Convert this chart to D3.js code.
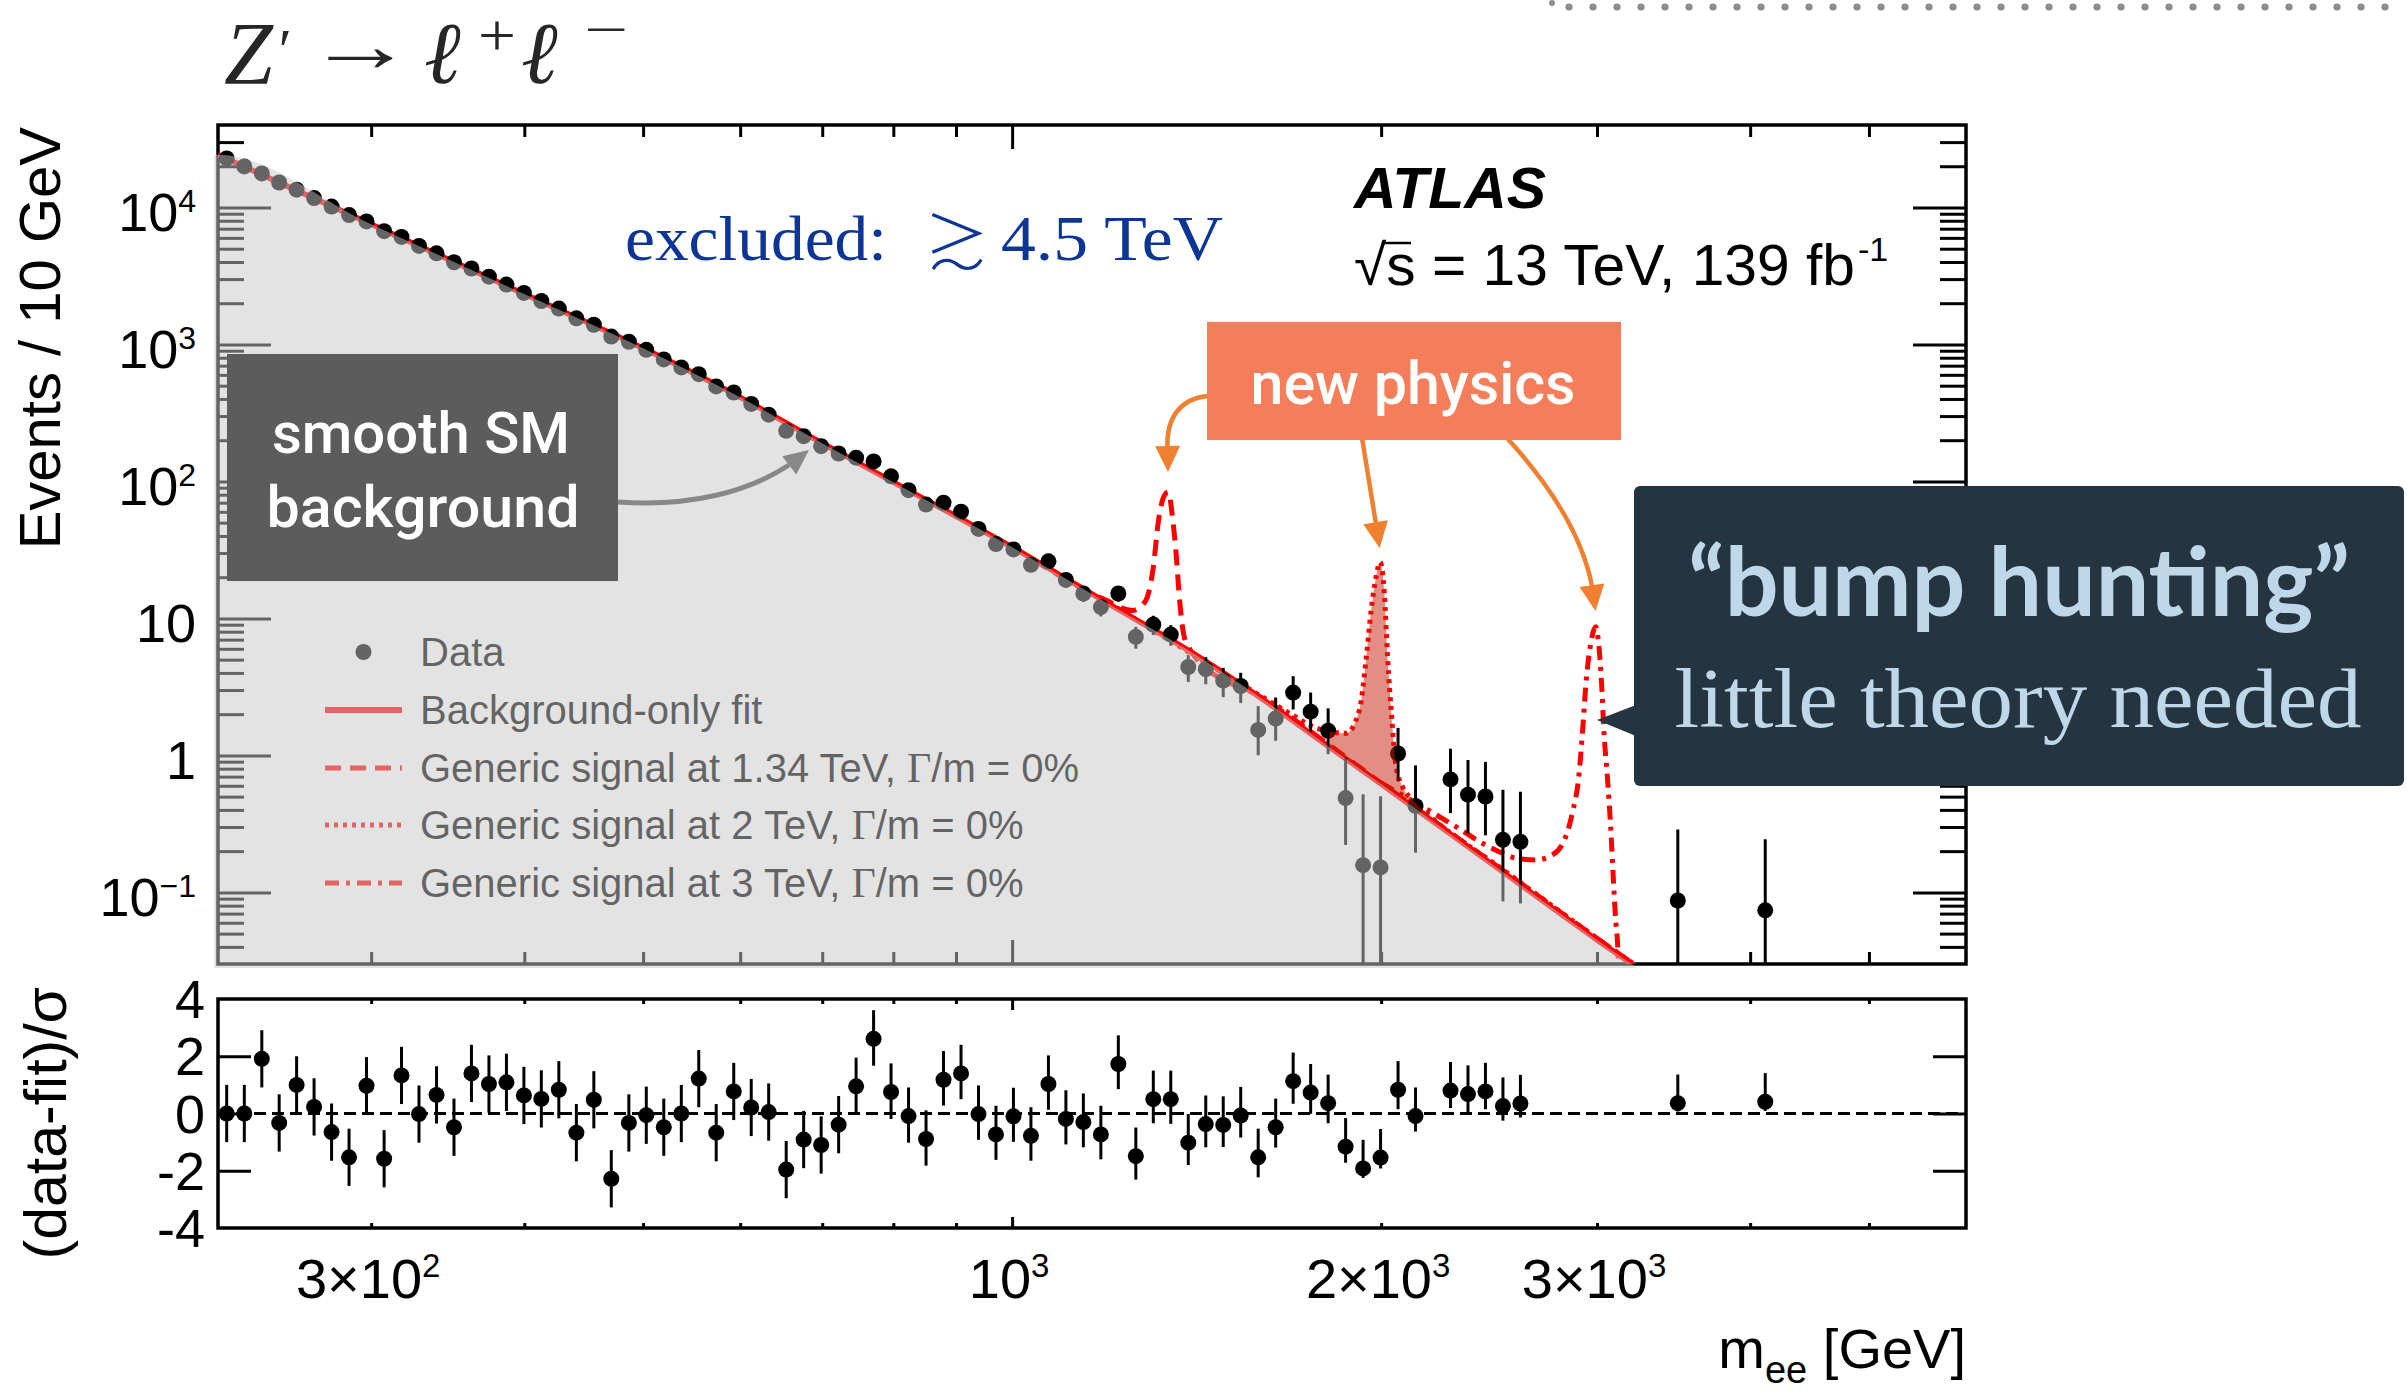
<!DOCTYPE html>
<html>
<head>
<meta charset="utf-8">
<title>Z' → ℓ+ℓ− : dielectron invariant mass</title>
<script src="https://cdn.jsdelivr.net/npm/d3@7/dist/d3.min.js"></script>
<style>
  html, body { margin: 0; padding: 0; background: #ffffff; }
  svg { display: block; }
</style>
</head>
<body>
<svg id="chart" width="2407" height="1398" viewBox="0 0 2407 1398"></svg>
<script>
// ---------------------------------------------------------------------------
// Data: ATLAS dielectron spectrum, 13 TeV, 139 fb-1 (log-spaced bins)
// ---------------------------------------------------------------------------
const binCentres = [
  228.7, 236.4, 244.3, 252.4, 260.8, 269.5, 278.5, 287.8, 297.4, 307.4,
  317.6, 328.2, 339.2, 350.5, 362.2, 374.3, 386.8, 399.7, 413.0, 426.8,
  441.1, 455.8, 471.0, 486.8, 503.0, 519.8, 537.2, 555.1, 573.6, 592.8,
  612.6, 633.0, 654.2, 676.0, 698.6, 721.9, 746.0, 770.9, 796.6, 823.2,
  850.7, 879.1, 908.5, 938.8, 970.1, 1002.5, 1036.0, 1070.6, 1106.3, 1143.2,
  1181.4, 1220.8, 1261.6, 1303.7, 1347.2, 1392.2, 1438.7, 1486.7, 1536.3, 1587.6,
  1640.6, 1695.4, 1752.0, 1810.5, 1870.9, 1933.4, 1997.9, 2064.6, 2133.5, 2204.8,
  2278.4, 2354.4, 2433.0, 2514.2, 2598.2, 2684.9, 2774.6, 2867.2, 2962.9, 3061.9,
  3164.1, 3269.8, 3379.0, 3491.8, 3608.4, 3728.9, 3853.4, 3982.1, 4115.1
];

// Events / 10 GeV (null = empty bin)
const eventsPer10GeV = [
  22790, 19940, 17726, 15219, 13479, 11710, 10153, 8794, 7912, 6716,
  6091, 5239, 4627, 3983, 3586, 3123, 2737, 2377, 2076, 1829,
  1552, 1392, 1141, 1046, 913, 778, 680, 607, 494, 446,
  368, 307, 234, 214, 181, 160, 149, 140, 109, 86.3,
  67.8, 69.9, 60.1, 45.0, 34.9, 31.9, 24.6, 26.1, 19.1, 15.2,
  12.1, 15.2, 7.34, 9.01, 7.62, 4.42, 4.26, 3.51, 3.21, 1.534,
  1.856, 2.874, 2.086, 1.514, 0.488, 0.158, 0.152, 1.032, 0.428, null,
  0.668, 0.517, 0.501, 0.242, 0.234, null, null, null, null, null,
  null, null, null, 0.0872, null, null, null, null, 0.0740
];

const eventsErrLow = [
  174, 160, 149, 136, 125, 115, 105, 96, 90, 82,
  76, 70, 64, 59, 55, 50, 46, 43, 39, 36,
  33, 30, 27, 26, 24, 21, 20, 18, 16, 15,
  13.5, 12.2, 10.4, 9.8, 8.9, 8.2, 7.8, 7.4, 6.5, 5.6,
  4.9, 4.9, 4.5, 3.8, 3.3, 3.1, 2.7, 2.7, 2.3, 2.0,
  1.77, 1.95, 1.33, 1.45, 1.31, 0.98, 0.95, 0.85, 0.80, 0.531,
  0.577, 0.711, 0.593, 0.494, 0.266, 0.130, 0.126, 0.381, 0.233, null,
  0.289, 0.248, 0.240, 0.156, 0.151, null, null, null, null, null,
  null, null, null, 0.0721, null, null, null, null, 0.0612
];

const eventsErrHigh = [
  174, 160, 149, 136, 125, 115, 105, 96, 90, 82,
  76, 70, 64, 59, 55, 50, 46, 43, 39, 36,
  33, 30, 27, 26, 24, 21, 20, 18, 16, 15,
  13.5, 12.2, 10.4, 9.8, 8.9, 8.2, 7.8, 7.4, 6.5, 5.6,
  4.9, 4.9, 4.5, 3.8, 3.3, 3.1, 2.7, 2.7, 2.3, 2.0,
  1.77, 1.95, 1.33, 1.45, 1.31, 0.98, 0.95, 0.85, 0.80, 0.756,
  0.791, 0.912, 0.791, 0.691, 0.475, 0.362, 0.351, 0.556, 0.417, null,
  0.452, 0.409, 0.396, 0.319, 0.309, null, null, null, null, null,
  null, null, null, 0.2005, null, null, null, null, 0.1702
];

// (data - fit) / sigma per bin
const significance = [
  0.00, 0.00, 1.91, -0.33, 1.00, 0.23, -0.65, -1.53, 0.97, -1.58,
  1.33, -0.02, 0.65, -0.48, 1.40, 1.03, 1.09, 0.63, 0.51, 0.83,
  -0.67, 0.48, -2.28, -0.33, -0.06, -0.48, 0.00, 1.22, -0.67, 0.77,
  0.21, 0.05, -1.96, -0.91, -1.10, -0.39, 0.95, 2.61, 0.75, -0.09,
  -0.89, 1.18, 1.40, -0.02, -0.73, -0.10, -0.78, 1.03, -0.19, -0.30,
  -0.73, 1.73, -1.49, 0.50, 0.50, -1.02, -0.37, -0.40, -0.07, -1.53,
  -0.48, 1.13, 0.73, 0.36, -1.16, -1.92, -1.54, 0.83, -0.09, null,
  0.80, 0.68, 0.77, 0.26, 0.35, null, null, null, null, null,
  null, null, null, 0.36, null, null, null, null, 0.41
];

const significanceErrLow = [
  1, 1, 1, 1, 1, 1, 1, 1, 1, 1,
  1, 1, 1, 1, 1, 1, 1, 1, 1, 1,
  1, 1, 1, 1, 1, 1, 1, 1, 1, 1,
  1, 1, 1, 1, 1, 1, 0.95, 0.94, 0.94, 0.93,
  0.93, 0.90, 0.90, 0.90, 0.89, 0.89, 0.87, 0.90, 0.89, 0.88,
  0.87, 0.88, 0.82, 0.84, 0.86, 0.78, 0.81, 0.77, 0.77, 0.70,
  0.71, 0.79, 0.74, 0.70, 0.56, 0.33, 0.38, 0.68, 0.54, null,
  0.61, 0.63, 0.62, 0.51, 0.49, null, null, null, null, null,
  null, null, null, 0.29, null, null, null, null, 0.32
];
const significanceErrHigh = 1.0;

// Background-only fit
const fitMass   = [225, 300, 400, 500, 600, 700, 800, 900, 1000, 1200, 1400, 1600, 1800, 2000, 2500, 3000, 3200, 3300];
const fitEvents = [24240, 7550, 2331, 937, 411, 190, 98.7, 55.7, 33.1, 12.7, 5.68, 2.58, 1.21, 0.619, 0.146, 0.045, 0.0301, 0.0247];

// Generic signal + background, 1.34 TeV
const sig134Mass   = [1000, 1191, 1253, 1284, 1303, 1317, 1331, 1341, 1351, 1361, 1370, 1380, 1395, 1415, 1600, 2000, 2500, 3000, 3250];
const sig134Events = [33.7, 13.69, 11.42, 13.28, 22.85, 53.3, 78.9, 83.8, 56.6, 29.1, 13.28, 7.71, 6.05, 5.05, 2.62, 0.629, 0.150, 0.0462, 0.028];

// Generic signal + background, 2 TeV
const sig2Mass   = [1200, 1600, 1700, 1760, 1815, 1872, 1920, 1944, 1963, 1981, 1996, 2012, 2025, 2038, 2057, 2082, 2122, 2189, 2500, 3000, 3250];
const sig2Events = [12.93, 2.67, 1.93, 1.62, 1.489, 1.45, 2.14, 4.96, 11.5, 20.1, 25.7, 15.3, 4.96, 2.14, 0.827, 0.591, 0.473, 0.363, 0.152, 0.0462, 0.028];

// Generic signal + background, 3 TeV
const sig3Mass   = [2000, 2301, 2419, 2512, 2576, 2674, 2759, 2829, 2864, 2901, 2919, 2937, 2965, 2993, 3011, 3027, 3040, 3059, 3078, 3093, 3107, 3117, 3124, 3130];
const sig3Events = [0.629, 0.302, 0.2285, 0.1931, 0.1776, 0.1726, 0.1877, 0.2553, 0.378, 0.740, 1.449, 3.17, 6.57, 8.69, 6.21, 3.17, 1.449, 0.699, 0.302, 0.1304, 0.0630, 0.0450, 0.0301, 0.02];

// Axis labels
const yLabelValues = [0.1, 1, 10, 100, 1000, 10000];
const yLabelBase   = ['10', '1', '10', '10', '10', '10'];
const yLabelExp    = ['\u22121', '', '', '2', '3', '4'];
const xLabelValues = [300, 1000, 2000, 3000];
const xLabelBase   = ['3\u00d710', '10', '2\u00d710', '3\u00d710'];
const xLabelExp    = ['2', '3', '3', '3'];
const rLabelValues = [4, 2, 0, -2, -4];
const rLabelText   = ['4', '2', '0', '-2', '-4'];

const legendLabels = ['Data', 'Background-only fit', 'Generic signal at 1.34 TeV, ', 'Generic signal at 2 TeV, ', 'Generic signal at 3 TeV, '];

// ---------------------------------------------------------------------------
// Layout, scales
// ---------------------------------------------------------------------------
const SANS  = '"Liberation Sans", Arial, Helvetica, sans-serif';
const SERIF = '"Liberation Serif", "Times New Roman", "DejaVu Serif", serif';
const DIN   = 'Roboto, "Open Sans", sans-serif';
const GEO   = 'Lato, "Open Sans", sans-serif';

const RED = '#ff0000';
const frame  = { left: 218, right: 1966, top: 125, bottom: 964 };
const rFrame = { left: 218, right: 1966, top: 999, bottom: 1228 };

const x  = d3.scaleLog().domain([225, 6000]).range([frame.left, frame.right]);
const y  = d3.scaleLog().domain([0.03, 4e4]).range([frame.bottom, frame.top]);
const yr = d3.scaleLinear().domain([-4, 4]).range([rFrame.bottom, rFrame.top]);

const svg = d3.select('#chart');
svg.append('rect').attr('width', 2407).attr('height', 1398).attr('fill', '#fff');

const defs = svg.append('defs');
defs.append('clipPath').attr('id', 'clip-main').append('rect')
  .attr('x', frame.left).attr('y', frame.top)
  .attr('width', frame.right - frame.left).attr('height', frame.bottom - frame.top);
defs.append('clipPath').attr('id', 'clip-shade').append('rect')
  .attr('x', frame.left - 4).attr('y', frame.top)
  .attr('width', frame.right - frame.left + 4).attr('height', frame.bottom - frame.top + 4);
defs.append('clipPath').attr('id', 'clip-ratio').append('rect')
  .attr('x', rFrame.left).attr('y', rFrame.top)
  .attr('width', rFrame.right - rFrame.left).attr('height', rFrame.bottom - rFrame.top);

// tick marks only; frames and labels are drawn separately
function tickMarks(g, axis, values, size) {
  g.call(axis.tickValues(values).tickSize(size).tickFormat(() => ''));
  g.select('.domain').remove();
  g.selectAll('.tick text').remove();
  g.selectAll('.tick line').attr('stroke', '#000').attr('stroke-width', 3);
}

const yMajor = [0.1, 1, 10, 100, 1000, 10000];
const yMinor = [];
for (let e = -2; e <= 4; e++) {
  for (let k = 2; k <= 9; k++) {
    const v = k * Math.pow(10, e);
    if (v > 0.031 && v < 4e4) yMinor.push(v);
  }
}
const xMajor = [1000];
const xMinor = [300, 400, 500, 600, 700, 800, 900, 2000, 3000, 4000, 5000];

// ---------------------------------------------------------------------------
// Main panel
// ---------------------------------------------------------------------------
const main = svg.append('g').attr('class', 'main-panel');

const axesG = main.append('g');
tickMarks(axesG.append('g').attr('transform', `translate(${frame.left},0)`), d3.axisLeft(y), yMajor, -53);
tickMarks(axesG.append('g').attr('transform', `translate(${frame.left},0)`), d3.axisLeft(y), yMinor, -26);
tickMarks(axesG.append('g').attr('transform', `translate(${frame.right},0)`), d3.axisRight(y), yMajor, -53);
tickMarks(axesG.append('g').attr('transform', `translate(${frame.right},0)`), d3.axisRight(y), yMinor, -26);
tickMarks(axesG.append('g').attr('transform', `translate(0,${frame.top})`), d3.axisTop(x), xMajor, -24);
tickMarks(axesG.append('g').attr('transform', `translate(0,${frame.top})`), d3.axisTop(x), xMinor, -12);
tickMarks(axesG.append('g').attr('transform', `translate(0,${frame.bottom})`), d3.axisBottom(x), xMajor, -24);
tickMarks(axesG.append('g').attr('transform', `translate(0,${frame.bottom})`), d3.axisBottom(x), xMinor, -12);

main.append('rect')
  .attr('x', frame.left).attr('y', frame.top)
  .attr('width', frame.right - frame.left).attr('height', frame.bottom - frame.top)
  .attr('fill', 'none').attr('stroke', '#000').attr('stroke-width', 3.5);

// y tick labels
const yLab = main.append('g').attr('font-family', SANS).attr('fill', '#000');
yLabelValues.forEach((v, i) => {
  const t = yLab.append('text')
    .attr('x', 196).attr('y', y(v) + 24)
    .attr('text-anchor', 'end').attr('font-size', 54);
  t.append('tspan').text(yLabelBase[i]);
  if (yLabelExp[i]) t.append('tspan').attr('font-size', 32).attr('dy', -19).text(yLabelExp[i]);
});

// y title
main.append('text')
  .attr('transform', 'translate(60,127) rotate(-90)')
  .attr('text-anchor', 'end')
  .attr('font-family', SANS).attr('font-size', 58)
  .text('Events / 10 GeV');

// legend
const legRows = [652, 710, 768, 825, 883];
const leg = main.append('g');
leg.append('circle').attr('cx', 363.5).attr('cy', legRows[0]).attr('r', 8).attr('fill', '#000');
const legStyles = [null, null, '16 9', '4 5', '14 7 4 7'];
[1, 2, 3, 4].forEach(i => {
  const l = leg.append('line')
    .attr('x1', 325).attr('x2', 402).attr('y1', legRows[i]).attr('y2', legRows[i])
    .attr('stroke', RED).attr('stroke-width', i === 1 ? 6 : 5);
  if (legStyles[i]) l.attr('stroke-dasharray', legStyles[i]);
});
legendLabels.forEach((s, i) => {
  const t = leg.append('text')
    .attr('x', 420).attr('y', legRows[i] + 14)
    .attr('font-family', SANS).attr('font-size', 40).attr('fill', '#000');
  t.append('tspan').text(s);
  if (i >= 2) {
    t.append('tspan').attr('font-family', SERIF).attr('font-size', 42).text('\u0393');
    t.append('tspan').text('/m = 0%');
  }
});

// curves
const curveG = main.append('g').attr('clip-path', 'url(#clip-main)');
const massLine = d3.line().x(d => x(d[0])).y(d => y(d[1])).curve(d3.curveMonotoneX);
const zip = (a, b) => a.map((v, i) => [v, b[i]]);

curveG.append('path')
  .attr('d', massLine(zip(fitMass, fitEvents)))
  .attr('fill', 'none').attr('stroke', RED).attr('stroke-width', 5.5);

curveG.append('path')
  .attr('d', massLine(zip(sig134Mass, sig134Events)))
  .attr('fill', 'none').attr('stroke', RED).attr('stroke-width', 5)
  .attr('stroke-dasharray', '16 9');
curveG.append('path')
  .attr('d', massLine(zip(sig3Mass, sig3Events)))
  .attr('fill', 'none').attr('stroke', RED).attr('stroke-width', 5)
  .attr('stroke-dasharray', '14 7 4 7');
curveG.append('path')
  .attr('d', massLine(zip(sig2Mass, sig2Events)))
  .attr('fill', 'none').attr('stroke', RED).attr('stroke-width', 5)
  .attr('stroke-dasharray', '4 5');

// data points
const dataPts = binCentres.map((m, i) => ({ m, v: eventsPer10GeV[i], lo: eventsErrLow[i], hi: eventsErrHigh[i] }))
  .filter(d => d.v != null);
const dataG = main.append('g').attr('clip-path', 'url(#clip-main)');
dataG.selectAll('line.err').data(dataPts).join('line')
  .attr('class', 'err')
  .attr('x1', d => x(d.m)).attr('x2', d => x(d.m))
  .attr('y1', d => y(Math.max(d.v - d.lo, 1e-4)))
  .attr('y2', d => y(d.v + d.hi))
  .attr('stroke', '#000').attr('stroke-width', 3);
dataG.selectAll('circle').data(dataPts).join('circle')
  .attr('cx', d => x(d.m)).attr('cy', d => y(d.v)).attr('r', 8).attr('fill', '#000');

// shaded excess of the 2 TeV signal over the fit
function fitAt(m) {
  for (let i = 0; i < fitMass.length - 1; i++) {
    if (m >= fitMass[i] && m <= fitMass[i + 1]) {
      const t = Math.log(m / fitMass[i]) / Math.log(fitMass[i + 1] / fitMass[i]);
      return Math.exp(Math.log(fitEvents[i]) + t * Math.log(fitEvents[i + 1] / fitEvents[i]));
    }
  }
  return fitEvents[fitEvents.length - 1];
}
const bumpPts = zip(sig2Mass, sig2Events).filter(d => d[0] >= 1815 && d[0] <= 2189);
main.append('path')
  .attr('clip-path', 'url(#clip-main)')
  .attr('d', d3.area().x(d => x(d[0])).y0(d => y(fitAt(d[0]))).y1(d => y(d[1])).curve(d3.curveMonotoneX)(bumpPts))
  .attr('fill', 'rgba(200,30,10,0.5)');

// translucent veil under the smooth background fit
const veilPts = zip(fitMass, fitEvents).map(d => [x(d[0]), y(d[1])]);
veilPts.unshift([frame.left - 4, veilPts[0][1]]);
main.append('path')
  .attr('clip-path', 'url(#clip-shade)')
  .attr('d', d3.area().x(d => d[0]).y0(frame.bottom + 4).y1(d => d[1]).curve(d3.curveMonotoneX)(veilPts))
  .attr('fill', 'rgba(200,200,200,0.5)');

// ATLAS label
main.append('text')
  .attr('x', 1354).attr('y', 208)
  .attr('font-family', SANS).attr('font-size', 58).attr('font-weight', 'bold').attr('font-style', 'italic')
  .attr('textLength', 192).attr('lengthAdjust', 'spacingAndGlyphs')
  .text('ATLAS');
main.append('text')
  .attr('x', 1354).attr('y', 285)
  .attr('font-family', SANS).attr('font-size', 57)
  .attr('textLength', 501).attr('lengthAdjust', 'spacingAndGlyphs')
  .text('\u221As = 13 TeV, 139 fb');
main.append('text')
  .attr('x', 1858).attr('y', 261)
  .attr('font-family', SANS).attr('font-size', 34)
  .text('-1');
main.append('line').attr('x1', 1384).attr('x2', 1411).attr('y1', 243).attr('y2', 243)
  .attr('stroke', '#000').attr('stroke-width', 2.5);

// exclusion note
const BLUE = '#0d3595';
const excl = main.append('g').attr('font-family', SERIF).attr('fill', BLUE).attr('font-size', 64);
excl.append('text').attr('x', 625).attr('y', 260)
  .attr('textLength', 262).attr('lengthAdjust', 'spacingAndGlyphs').text('excluded:');
excl.append('text').attr('x', 957).attr('y', 266).attr('text-anchor', 'middle')
  .attr('font-family', '"Noto Sans CJK JP", "DejaVu Serif", serif').attr('font-weight', 300)
  .attr('font-size', 66).text('\u2273');
excl.append('text').attr('x', 1001).attr('y', 260)
  .attr('textLength', 222).attr('lengthAdjust', 'spacingAndGlyphs').text('4.5 TeV');

// ---------------------------------------------------------------------------
// Ratio panel
// ---------------------------------------------------------------------------
const rat = svg.append('g').attr('class', 'ratio-panel');
const rAx = rat.append('g');
tickMarks(rAx.append('g').attr('transform', `translate(${rFrame.left},0)`), d3.axisLeft(yr), [-2, 0, 2], -33);
tickMarks(rAx.append('g').attr('transform', `translate(${rFrame.right},0)`), d3.axisRight(yr), [-2, 0, 2], -33);
tickMarks(rAx.append('g').attr('transform', `translate(0,${rFrame.top})`), d3.axisTop(x), xMajor, -11);
tickMarks(rAx.append('g').attr('transform', `translate(0,${rFrame.top})`), d3.axisTop(x), xMinor, -5);
tickMarks(rAx.append('g').attr('transform', `translate(0,${rFrame.bottom})`), d3.axisBottom(x), xMajor, -11);
tickMarks(rAx.append('g').attr('transform', `translate(0,${rFrame.bottom})`), d3.axisBottom(x), xMinor, -5);

rat.append('line')
  .attr('x1', rFrame.left).attr('x2', rFrame.right).attr('y1', yr(0)).attr('y2', yr(0))
  .attr('stroke', '#000').attr('stroke-width', 3).attr('stroke-dasharray', '12 6');

const sigPts = binCentres.map((m, i) => ({ m, s: significance[i], lo: significanceErrLow[i] }))
  .filter(d => d.s != null);
const sigG = rat.append('g').attr('clip-path', 'url(#clip-ratio)');
sigG.selectAll('line').data(sigPts).join('line')
  .attr('x1', d => x(d.m)).attr('x2', d => x(d.m))
  .attr('y1', d => yr(d.s - d.lo)).attr('y2', d => yr(d.s + significanceErrHigh))
  .attr('stroke', '#000').attr('stroke-width', 3);
sigG.selectAll('circle').data(sigPts).join('circle')
  .attr('cx', d => x(d.m)).attr('cy', d => yr(d.s)).attr('r', 8).attr('fill', '#000');

rat.append('rect')
  .attr('x', rFrame.left).attr('y', rFrame.top)
  .attr('width', rFrame.right - rFrame.left).attr('height', rFrame.bottom - rFrame.top)
  .attr('fill', 'none').attr('stroke', '#000').attr('stroke-width', 3.5);

const rLab = rat.append('g').attr('font-family', SANS).attr('font-size', 54);
rLabelValues.forEach((v, i) => {
  rLab.append('text').attr('x', 205).attr('y', yr(v) + 19).attr('text-anchor', 'end').text(rLabelText[i]);
});

rat.append('text')
  .attr('transform', 'translate(66,987) rotate(-90)')
  .attr('text-anchor', 'end')
  .attr('font-family', SANS).attr('font-size', 59)
  .text('(data-fit)/\u03c3');

// x tick labels
const xLab = svg.append('g').attr('font-family', SANS);
xLabelValues.forEach((v, i) => {
  const t = xLab.append('text').attr('x', x(v) - 3).attr('y', 1298)
    .attr('text-anchor', 'middle').attr('font-size', 56);
  t.append('tspan').text(xLabelBase[i]);
  t.append('tspan').attr('font-size', 33).attr('dy', -21).text(xLabelExp[i]);
});

// x title
const xt = svg.append('text').attr('x', 1966).attr('y', 1368)
  .attr('text-anchor', 'end').attr('font-family', SANS).attr('font-size', 56);
xt.append('tspan').text('m');
xt.append('tspan').attr('font-size', 38).attr('dy', 15).text('ee');
xt.append('tspan').attr('dy', -15).text(' [GeV]');

// ---------------------------------------------------------------------------
// Annotations
// ---------------------------------------------------------------------------
const ann = svg.append('g').attr('class', 'annotations');

function arrowHead(g, tip, dir, len, half, color) {
  const n = Math.hypot(dir[0], dir[1]);
  const ux = dir[0] / n, uy = dir[1] / n;
  const bx = tip[0] - ux * len, by = tip[1] - uy * len;
  const px = -uy, py = ux;
  g.append('path')
    .attr('d', `M${tip[0]},${tip[1]}L${bx + px * half},${by + py * half}L${bx - px * half},${by - py * half}Z`)
    .attr('fill', color);
}

// smooth SM background
ann.append('rect').attr('x', 227).attr('y', 354).attr('width', 391).attr('height', 227).attr('fill', '#5c5c5c');
ann.append('text').attr('x', 421).attr('y', 453).attr('text-anchor', 'middle')
  .attr('font-family', DIN).attr('font-weight', 500).attr('font-size', 58).attr('fill', '#fff')
  .attr('textLength', 298).attr('lengthAdjust', 'spacingAndGlyphs').text('smooth SM');
ann.append('text').attr('x', 423).attr('y', 527).attr('text-anchor', 'middle')
  .attr('font-family', DIN).attr('font-weight', 500).attr('font-size', 58).attr('fill', '#fff')
  .attr('textLength', 313).attr('lengthAdjust', 'spacingAndGlyphs').text('background');
ann.append('path').attr('d', 'M618,502 C690,507 748,492 789,465')
  .attr('fill', 'none').attr('stroke', '#888').attr('stroke-width', 5);
arrowHead(ann, [809, 450], [19.6, -15.2], 25, 11.5, '#888');

// new physics
const ORANGE = '#f0802f';
ann.append('path').attr('d', 'M1207,396 C1180,399 1166,418 1167.5,448')
  .attr('fill', 'none').attr('stroke', ORANGE).attr('stroke-width', 4.5);
arrowHead(ann, [1168, 472], [0.3, 24], 26, 12.5, ORANGE);
ann.append('path').attr('d', 'M1362,438 L1376,524')
  .attr('fill', 'none').attr('stroke', ORANGE).attr('stroke-width', 4.5);
arrowHead(ann, [1379.6, 548], [3.9, 24.7], 26, 12.5, ORANGE);
ann.append('path').attr('d', 'M1507,438 C1550,485 1582,535 1592,586')
  .attr('fill', 'none').attr('stroke', ORANGE).attr('stroke-width', 4.5);
arrowHead(ann, [1595.5, 611], [3.5, 25], 26, 12.5, ORANGE);
ann.append('rect').attr('x', 1207).attr('y', 322).attr('width', 414).attr('height', 118).attr('fill', '#f37e59');
ann.append('text').attr('x', 1413).attr('y', 404).attr('text-anchor', 'middle')
  .attr('font-family', DIN).attr('font-weight', 500).attr('font-size', 60).attr('fill', '#fff')
  .attr('textLength', 325).attr('lengthAdjust', 'spacingAndGlyphs').text('new physics');

// bump hunting callout
const SLATE = '#243441';
ann.append('rect').attr('x', 1634).attr('y', 486).attr('width', 770).attr('height', 300).attr('rx', 6).attr('fill', SLATE);
ann.append('path').attr('d', 'M1636,705 L1597,720 L1636,736 Z').attr('fill', SLATE);
ann.append('text').attr('x', 2019).attr('y', 616).attr('text-anchor', 'middle')
  .attr('font-family', GEO).attr('font-weight', 'bold').attr('font-size', 96).attr('fill', '#bed8ea')
  .attr('textLength', 662).attr('lengthAdjust', 'spacingAndGlyphs').text('\u201cbump hunting\u201d');
ann.append('text').attr('x', 2018).attr('y', 727).attr('text-anchor', 'middle')
  .attr('font-family', SERIF).attr('font-size', 84).attr('fill', '#bed8ea')
  .attr('textLength', 687).attr('lengthAdjust', 'spacingAndGlyphs').text('little theory needed');

// process title: Z' -> l+ l-
const ttl = ann.append('g').attr('fill', '#262626').attr('font-family', SERIF);
const SCRIPT_L = '"DejaVu Serif", serif';
ttl.append('text').attr('x', 224).attr('y', 83).attr('font-size', 88).attr('font-style', 'italic').text('Z');
ttl.append('text').attr('x', 275).attr('y', 70).attr('font-size', 60).attr('font-style', 'italic').text('\u2032');
ttl.append('text').attr('x', 306).attr('y', 71).attr('font-size', 76)
  .attr('textLength', 108).attr('lengthAdjust', 'spacingAndGlyphs').text('\u2192');
ttl.append('text').attr('x', 424).attr('y', 83).attr('font-family', SCRIPT_L)
  .attr('font-style', 'italic').attr('font-size', 88).text('\u2113');
ttl.append('text').attr('x', 478).attr('y', 55).attr('font-size', 60)
  .attr('textLength', 38).attr('lengthAdjust', 'spacingAndGlyphs').text('+');
ttl.append('text').attr('x', 521).attr('y', 83).attr('font-family', SCRIPT_L)
  .attr('font-style', 'italic').attr('font-size', 88).text('\u2113');
ttl.append('text').attr('x', 584).attr('y', 47).attr('font-size', 52)
  .attr('textLength', 44).attr('lengthAdjust', 'spacingAndGlyphs').text('\u2212');

// dotted rule along the top edge
const dotXs = d3.range(1569, 2407, 24);
ann.append('circle').attr('cx', 1552).attr('cy', 3).attr('r', 3).attr('fill', '#8c8c8c');
ann.selectAll('circle.rule').data(dotXs).join('circle').attr('class', 'rule')
  .attr('cx', d => d).attr('cy', 7).attr('r', 3.6).attr('fill', '#8c8c8c');
</script>
</body>
</html>
